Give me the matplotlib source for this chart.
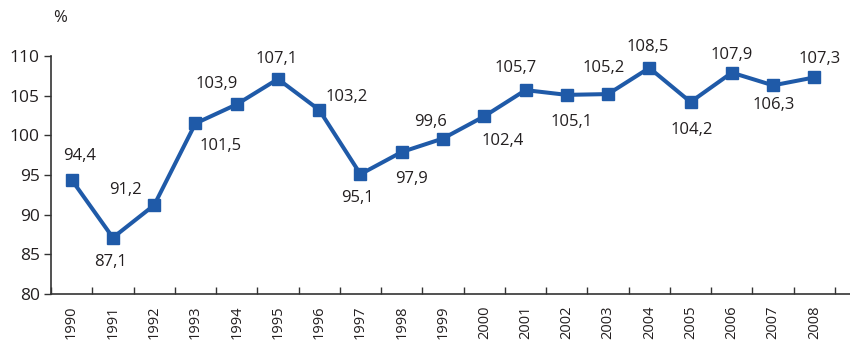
import matplotlib
matplotlib.use("Agg")
import matplotlib.pyplot as plt
import numpy as np

years = [str(y) for y in range(1990, 2009)]
values = [94.4, 87.1, 91.2, 101.5, 103.9, 107.1, 103.2, 95.1, 97.9, 99.6,
          102.4, 105.7, 105.1, 105.2, 108.5, 104.2, 107.9, 106.3, 107.3]
labels = [f"{v:.1f}".replace(".", ",") for v in values]

# label offsets in pixels (dx, dy; dy positive = downward)
label_offsets = [(8, -24), (-2, 24), (-29, -15), (25, 23), (-20, -20), (-1, -20),
                 (27, -13), (-3, 24), (10, 27), (-12, -17), (18, 25), (-10, -22),
                 (5, 27), (-4, -26), (-2, -21), (1, 28), (0, -18), (1, 20), (5, -18)]

plt.rcParams['font.family'] = ['Open Sans', 'DejaVu Sans']

W, H, DPI = 850, 342, 100
fig = plt.figure(figsize=(W / DPI, H / DPI), dpi=DPI)
ax = fig.add_axes([51 / W, 1 - 294 / H, (850 - 51) / W, (294 - 56) / H])

line_color = "#1f5aa8"
text_color = "#231f20"
x = np.arange(len(values))
ax.plot(x, values, color=line_color, lw=2.9, marker='s', ms=8.6,
        markeredgecolor=line_color, markerfacecolor=line_color, zorder=3,
        solid_joinstyle='miter')

px2pt = 72 / DPI
for xi, v, lab, (dx, dy) in zip(x, values, labels, label_offsets):
    ax.annotate(lab, (xi, v), xytext=(dx * px2pt, -dy * px2pt),
                textcoords='offset points', ha='center', va='center',
                fontsize=12, color=text_color)

ax.set_ylim(80, 110)
ax.set_yticks(np.arange(80, 111, 5))
spacing = (835 - 51) / 19
ax.set_xlim(-0.5, 18.5 + (850 - 835) / spacing)

# category labels at centres, tick marks at boundaries
ax.set_xticks(x)
ax.set_xticklabels(years, rotation=90, fontsize=10.5, color=text_color)
ax.tick_params(axis='x', which='major', length=0, pad=8)
ax.set_xticks(np.arange(-0.5, 19.0, 1.0), minor=True)
ax.tick_params(axis='x', which='minor', direction='in', length=5, width=1, color='#333333')
ax.tick_params(axis='y', direction='out', length=5, width=1, color='#333333',
               labelsize=12.5, labelcolor=text_color, pad=3)

for s in ['top', 'right']:
    ax.spines[s].set_visible(False)
for s in ['left', 'bottom']:
    ax.spines[s].set_color('#333333')
    ax.spines[s].set_linewidth(1.2)

fig.text(60 / W, 1 - 18 / H, "%", fontsize=12, color=text_color, ha='center', va='center')

fig.savefig("out.png", dpi=DPI)
